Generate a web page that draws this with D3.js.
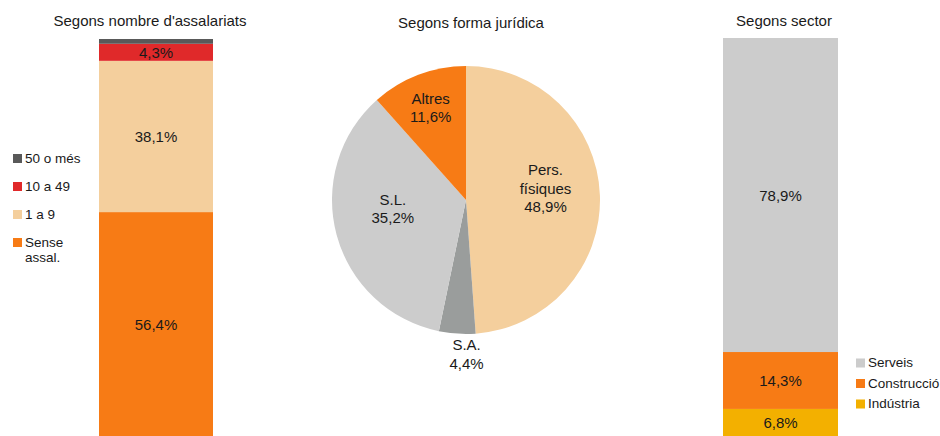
<html>
<head>
<style>
  body{margin:0;background:#fff}
  svg text{font-family:"Liberation Sans",Arial,sans-serif;font-size:15px;fill:#1a1a1a}
  svg .legend text{font-size:13.5px}
</style>
</head>
<body>
<div id="chart"></div>
<script src="https://cdn.jsdelivr.net/npm/d3@7"></script>
<script>
// Segons nombre d'assalariats (bottom to top)
var sizeCats   = ['Sense assal.', '1 a 9', '10 a 49', '50 o més'];
var sizeVals   = [56.4, 38.1, 4.3, 1.2];
var sizeLabels = ['56,4%', '38,1%', '4,3%', ''];
var sizeColors = ['#f77b15', '#f4cf9d', '#e0292a', '#595959'];

// Segons forma jurídica (clockwise from top)
var formCats   = ['Pers. físiques', 'S.A.', 'S.L.', 'Altres'];
var formVals   = [48.9, 4.4, 35.2, 11.6];
var formLabels = ['48,9%', '4,4%', '35,2%', '11,6%'];
var formColors = ['#f4cf9d', '#9a9d9c', '#cccccc', '#f77b15'];

// Segons sector (bottom to top)
var sectCats   = ['Indústria', 'Construcció', 'Serveis'];
var sectVals   = [6.8, 14.3, 78.9];
var sectLabels = ['6,8%', '14,3%', '78,9%'];
var sectColors = ['#f3b000', '#f77b15', '#cccccc'];

var width = 940, height = 436;
var svg = d3.select('#chart').append('svg')
  .attr('width', width)
  .attr('height', height);

function title(x, y, t) {
  svg.append('text').attr('x', x).attr('y', y)
    .attr('text-anchor', 'middle').text(t);
}
title(150, 26, "Segons nombre d'assalariats");
title(471, 28, 'Segons forma jurídica');
title(784, 26, 'Segons sector');

// stacked bar helper
function stackBar(x0, x1, top, bottom, vals, labels, colors) {
  var y = d3.scaleLinear().domain([0, 100]).range([bottom, top]);
  var acc = 0;
  var segs = vals.map(function (v, i) {
    var s = {lo: acc, hi: acc + v, label: labels[i], color: colors[i]};
    acc += v;
    return s;
  });
  var g = svg.append('g');
  g.selectAll('rect').data(segs).enter().append('rect')
    .attr('x', x0)
    .attr('width', x1 - x0)
    .attr('y', function (d) { return y(d.hi); })
    .attr('height', function (d) { return y(d.lo) - y(d.hi); })
    .attr('fill', function (d) { return d.color; });
  g.selectAll('text').data(segs).enter().append('text')
    .attr('x', (x0 + x1) / 2)
    .attr('y', function (d) { return (y(d.lo) + y(d.hi)) / 2 + 5.5; })
    .attr('text-anchor', 'middle')
    .text(function (d) { return d.label; });
}

stackBar(99, 213, 39, 436, sizeVals, sizeLabels, sizeColors);
stackBar(723, 838, 38, 436, sectVals, sectLabels, sectColors);

// left legend (top to bottom = reverse stack order)
var leg1 = svg.append('g').attr('class', 'legend');
var leg1Items = sizeCats.map(function (c, i) { return {c: c, col: sizeColors[i]}; }).reverse();
leg1Items.forEach(function (d, i) {
  var yy = 163 + i * 28;
  leg1.append('rect').attr('x', 13).attr('y', yy - 9).attr('width', 9).attr('height', 9).attr('fill', d.col);
  if (d.c === 'Sense assal.') {
    var words = d.c.split(' ');
    leg1.append('text').attr('x', 25).attr('y', yy).text(words[0]);
    leg1.append('text').attr('x', 25).attr('y', yy + 15).text(words[1]);
  } else {
    leg1.append('text').attr('x', 25).attr('y', yy).text(d.c);
  }
});

// right legend
var leg3 = svg.append('g').attr('class', 'legend');
var leg3Items = sectCats.map(function (c, i) { return {c: c, col: sectColors[i]}; }).reverse();
leg3Items.forEach(function (d, i) {
  var yy = 367 + i * 20.5;
  leg3.append('rect').attr('x', 856).attr('y', yy - 8.5).attr('width', 9).attr('height', 9).attr('fill', d.col);
  leg3.append('text').attr('x', 868).attr('y', yy).text(d.c);
});

// pie
var cx = 466, cy = 200, r = 134;
var pie = d3.pie().sort(null).value(function (d) { return d; });
var arcs = pie(formVals);
var arc = d3.arc().innerRadius(0).outerRadius(r);
var pg = svg.append('g').attr('transform', 'translate(' + cx + ',' + cy + ')');
pg.selectAll('path').data(arcs).enter().append('path')
  .attr('d', arc)
  .attr('fill', function (d, i) { return formColors[i]; });

// label placement per slice: radius factor and angle nudge (degrees); S.A. sits outside
var labelR     = [0.60, 1.15, 0.55, 0.74];
var labelShift = [-6.5, -4, 8.4, 0];
arcs.forEach(function (d, i) {
  var a = (d.startAngle + d.endAngle) / 2 + labelShift[i] * Math.PI / 180;
  var lx = Math.sin(a) * r * labelR[i];
  var ly = -Math.cos(a) * r * labelR[i];
  var lines = formCats[i] === 'Pers. físiques'
    ? ['Pers.', 'físiques', formLabels[i]]
    : [formCats[i], formLabels[i]];
  var t = pg.append('text').attr('text-anchor', 'middle');
  var h = 18.7;
  lines.forEach(function (s, k) {
    t.append('tspan')
      .attr('x', lx)
      .attr('y', ly + 5.5 + (k - (lines.length - 1) / 2) * h)
      .text(s);
  });
});
</script>
</body>
</html>
